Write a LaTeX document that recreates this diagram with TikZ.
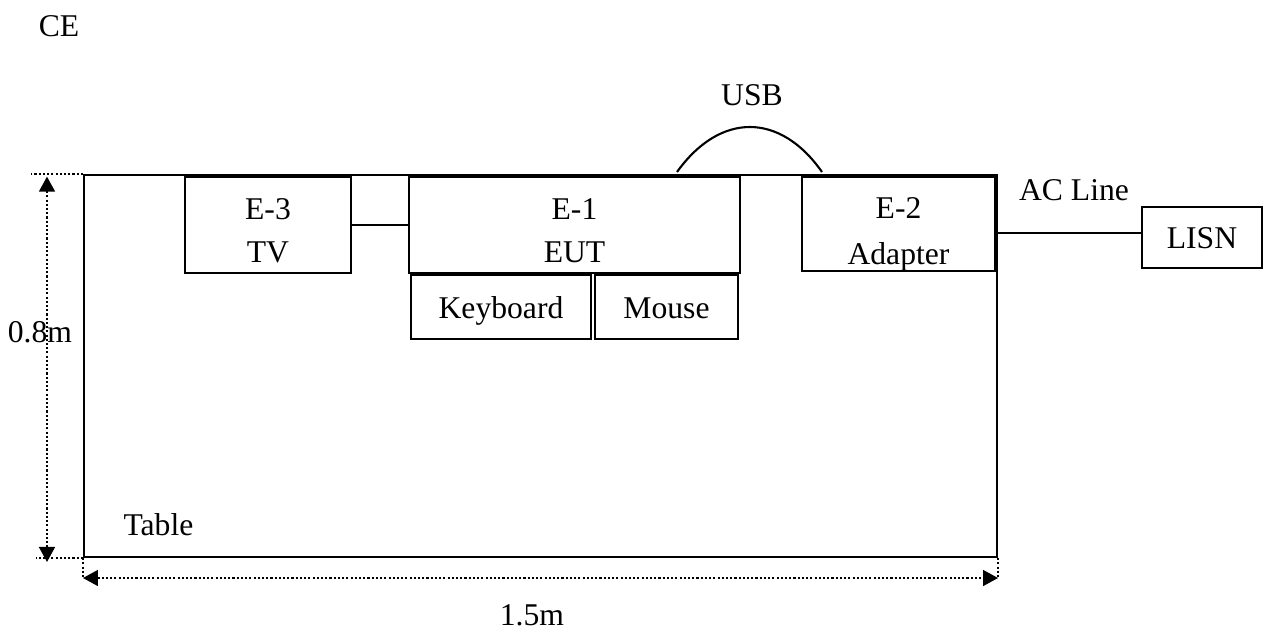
\documentclass[tikz,border=0pt]{standalone}
\usepackage{fontspec}
\setmainfont{Liberation Serif}
\usetikzlibrary{arrows.meta, positioning}

\def\pxu{0.3793pt}

\begin{document}
\begin{tikzpicture}[
    x=\pxu, y=-\pxu,
    font=\fontsize{12}{16}\selectfont,
    box/.style={rectangle, draw, line width=0.8pt, inner sep=0pt},
    oneline/.style={box, text height=8.4pt, text depth=0pt},
    twoline/.style={box, text height=8pt, text depth=11.8pt},
    wire/.style={line width=0.8pt},
    dimline/.style={line width=0.8pt, dash pattern=on 0.8pt off 0.8pt},
    dimarr/.style={dimline, {Triangle[length=5.7pt, width=6pt]}-{Triangle[length=5.7pt, width=6pt]}},
    lbl/.style={anchor=base, inner sep=0pt},
]
\useasboundingbox (0,0) rectangle (1263,630);

% ============ Table ============
\node[box, minimum width=913*\pxu, minimum height=382*\pxu] (table) at (540.5,366) {};
\node[lbl, anchor=base west] (tablelbl) at (123,535) {Table};

% ============ Equipment on the table ============
\node[twoline, minimum width=166*\pxu, minimum height=96*\pxu] (tv) at (268,225)
    {\begin{tabular}[t]{@{}c@{}}E-3\\TV\end{tabular}};
\node[twoline, minimum width=331*\pxu, minimum height=96*\pxu] (eut) at (574.5,225)
    {\begin{tabular}[t]{@{}c@{}}E-1\\EUT\end{tabular}};
\node[oneline, minimum width=180*\pxu, minimum height=64*\pxu] (keyboard) at (501,307) {Keyboard};
\node[oneline, minimum width=143*\pxu, minimum height=64*\pxu] (mouse) at (666.5,307) {Mouse};
\node[twoline, minimum width=193*\pxu, minimum height=94*\pxu] (adapter) at (898.5,224)
    {\begin{tabular}[t]{@{}c@{}}E-2\\[1.1pt]Adapter\end{tabular}};

% LISN beside the table
\node[oneline, minimum width=120*\pxu, minimum height=61*\pxu] (lisn) at (1202,237.5) {LISN};

% ============ Cables ============
\draw[wire] (tv.east) -- (eut.west);

\coordinate (usbA) at (677,172);
\coordinate (usbB) at (822,172);
\draw[wire] (usbA) .. controls +(43,-60) and +(-42,-60) .. (usbB);
\node[lbl] (usb) at (752,105) {USB};

\coordinate (acin) at ([yshift=1.7pt]lisn.west);
\draw[wire] (acin -| adapter.east) -- (acin);
\node[lbl] (acline) at (1074,200) {AC Line};

% ============ Dimensions ============
\coordinate (dimL) at (47,0);
\coordinate (dimB) at (0,578);
\draw[dimline] (table.north west) -- ++(-52,0);
\draw[dimline] (table.south west) -- ++(-47,0);
\draw[dimline] (table.south west) -- ++(0,21);
\draw[dimline] (table.south east) -- ++(0,21);
\draw[dimarr] ([yshift=-1pt]table.north west -| dimL) -- ([yshift=-1.5pt]table.south west -| dimL);
\draw[dimarr] (table.south west |- dimB) -- (table.south east |- dimB);

\node[lbl] (height) at (40,342) {0.8m};
\node[lbl] (width) at (532,625) {1.5m};

% Test label
\node[lbl] (ce) at (59,36) {CE};

\end{tikzpicture}
\end{document}
